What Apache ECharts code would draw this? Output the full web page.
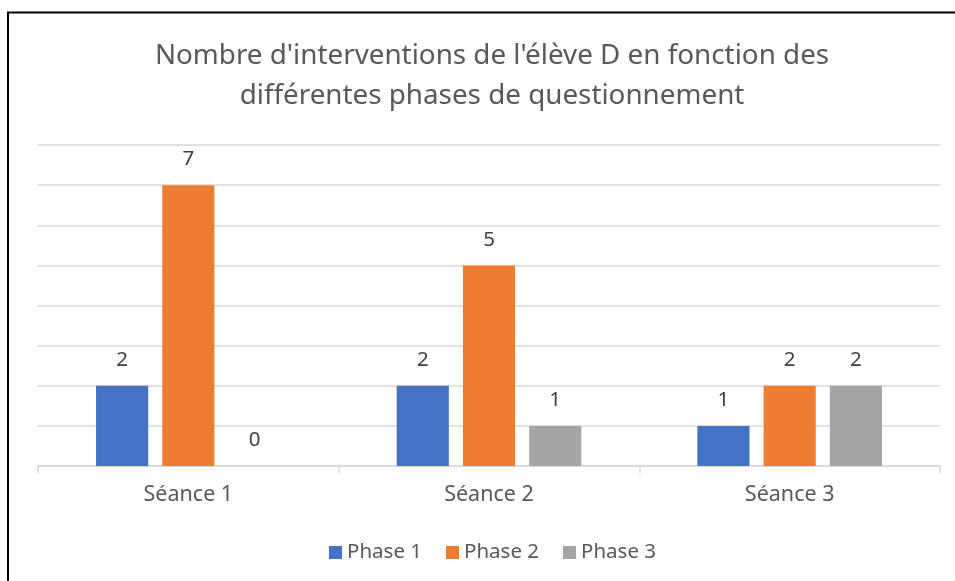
<!DOCTYPE html>
<html>
<head>
<meta charset="utf-8">
<script src="https://cdn.jsdelivr.net/npm/echarts@6/dist/echarts.min.js"></script>
<style>
html,body{margin:0;padding:0;background:#fff;}
#chart{width:955px;height:581px;}
</style>
</head>
<body>
<div id="chart"></div>
<script>
var titleText = "Nombre d'interventions de l'élève D en fonction des\ndifférentes phases de questionnement";
var categories = ["Séance 1", "Séance 2", "Séance 3"];
var seriesNames = ["Phase 1", "Phase 2", "Phase 3"];
var phase1 = [2, 2, 1];
var phase2 = [7, 5, 2];
var phase3 = [0, 1, 2];
var colors = ["#4472C4", "#ED7D31", "#A5A5A5"];

var FONT = "Noto Sans";
var chart = echarts.init(document.getElementById('chart'), null, {renderer: 'canvas'});

function mkSeries(name, data, color) {
  return {
    name: name,
    type: 'bar',
    data: data,
    itemStyle: {color: color},
    barGap: '27%',
    barCategoryGap: '38.6%',
    label: {
      show: true,
      position: 'top',
      distance: 15,
      color: '#404040',
      fontFamily: FONT,
      fontSize: 20.5
    },
    emphasis: {disabled: true}
  };
}

chart.setOption({
  animation: false,
  backgroundColor: '#fff',
  title: {
    text: titleText,
    left: 487,
    textAlign: 'center',
    top: 31,
    textStyle: {
      fontFamily: FONT,
      fontWeight: 'normal',
      fontSize: 27.8,
      lineHeight: 40,
      color: '#595959'
    }
  },
  legend: {
    data: seriesNames,
    top: 537,
    left: 324,
    icon: 'rect',
    itemWidth: 13,
    itemHeight: 13,
    itemGap: 24,
    textStyle: {fontFamily: FONT, fontSize: 20.5, color: '#595959'}
  },
  grid: {left: 38, right: 15, top: 145, bottom: 115, containLabel: false},
  xAxis: {
    type: 'category',
    data: categories,
    axisLine: {show: true, lineStyle: {color: '#d9d9d9', width: 1.5}},
    axisTick: {show: true, length: 7, lineStyle: {color: '#d9d9d9', width: 1.5}},
    axisLabel: {fontFamily: FONT, fontSize: 21.5, color: '#595959', margin: 18}
  },
  yAxis: {
    type: 'value',
    min: 0,
    max: 8,
    interval: 1,
    axisLabel: {show: false},
    axisLine: {show: false},
    axisTick: {show: false},
    splitLine: {lineStyle: {color: '#d9d9d9', width: 1.5}}
  },
  graphic: [{
    type: 'rect',
    shape: {x: 8, y: 12.5, width: 1000, height: 1000},
    style: {fill: 'none', stroke: '#000', lineWidth: 2},
    silent: true
  }],
  series: [
    mkSeries(seriesNames[0], phase1, colors[0]),
    mkSeries(seriesNames[1], phase2, colors[1]),
    mkSeries(seriesNames[2], phase3, colors[2])
  ]
});
</script>
</body>
</html>
